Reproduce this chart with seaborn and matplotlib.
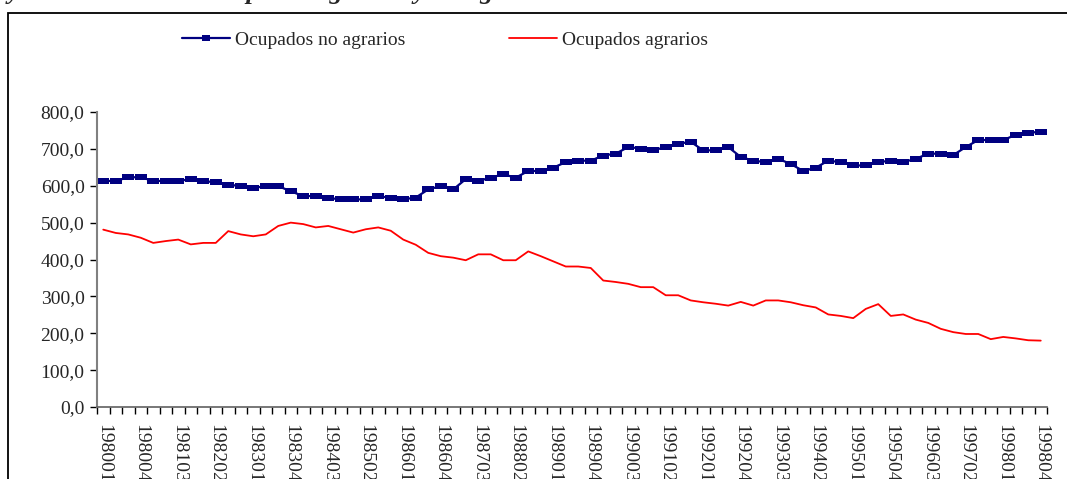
import numpy as np
import pandas as pd
import matplotlib
matplotlib.use("Agg")
import matplotlib.pyplot as plt
import matplotlib.patches as mpatches
from matplotlib.ticker import FixedLocator, FuncFormatter
import seaborn as sns

# ---- data ----
years = list(range(1980, 1999))
quarters = [1, 2, 3, 4]
periods = [f"{y}0{q}" for y in years for q in quarters]

no_agrarios = [613, 613, 623, 623, 613, 613, 613, 618, 613, 609,
               603, 599, 594, 599, 599, 585, 572, 572, 567, 563,
               563, 563, 572, 567, 563, 568, 590, 599, 590, 618,
               613, 622, 631, 622, 640, 640, 649, 664, 668, 668,
               682, 687, 705, 701, 696, 705, 714, 719, 696, 696,
               705, 678, 668, 664, 673, 659, 640, 649, 668, 664,
               655, 655, 664, 668, 664, 673, 687, 687, 683, 705,
               724, 724, 724, 738, 743, 747]
agrarios = [481, 472, 468, 459, 445, 450, 454, 441, 445, 445,
            477, 468, 463, 468, 491, 500, 496, 487, 491, 482,
            473, 482, 487, 478, 454, 440, 418, 409, 405, 398,
            414, 414, 398, 398, 422, 409, 395, 381, 381, 377,
            343, 339, 334, 325, 325, 303, 303, 289, 284, 280,
            275, 285, 275, 289, 289, 284, 276, 270, 251, 247,
            241, 266, 279, 247, 251, 237, 228, 212, 203, 198,
            198, 184, 190, 186, 181, 180]
series_names = ["Ocupados no agrarios", "Ocupados agrarios"]
y_ticks = [0, 100, 200, 300, 400, 500, 600, 700, 800]
title_text = "y evolución de los ocupados agrarios y no agrarios"

df = pd.DataFrame({
    "pos": np.arange(len(periods)),
    "periodo": periods,
    series_names[0]: no_agrarios,
    series_names[1]: agrarios,
})

sns.set_style("white")
plt.rcParams["font.family"] = ["Liberation Serif", "DejaVu Serif"]
plt.rcParams["font.size"] = 14

W, H = 1067, 479
fig = plt.figure(figsize=(W / 100, H / 100), dpi=100)
ax = fig.add_axes([97 / W, 72 / H, (1047 - 97) / W, (407 - 112) / H])

rect_marker = [(-1, -0.6), (1, -0.6), (1, 0.6), (-1, 0.6), (-1, -0.6)]
sns.lineplot(data=df, x="pos", y=series_names[0], ax=ax, color="#000080",
             linewidth=1.6, marker=rect_marker, markersize=8,
             markeredgewidth=0, label=series_names[0])
sns.lineplot(data=df, x="pos", y=series_names[1], ax=ax, color="#FF0000",
             linewidth=1.3, label=series_names[1])

ax.set_xlim(-0.5, len(periods) - 0.5)
ax.set_ylim(0, 800)
ax.set_xlabel("")
ax.set_ylabel("")

# x ticks: tick marks at category boundaries, labels every 3 categories
ax.xaxis.set_major_locator(FixedLocator(np.arange(-0.5, len(periods), 1.0)))
ax.xaxis.set_major_formatter(FuncFormatter(lambda v, p: ""))
lab_pos = np.arange(0, len(periods), 3)
ax.xaxis.set_minor_locator(FixedLocator(lab_pos))
ax.set_xticklabels([periods[i] for i in lab_pos], minor=True, rotation=270,
                   va="top", ha="center")
ax.tick_params(axis="x", which="major", direction="out", length=5, width=1,
               color="black", bottom=True)
ax.tick_params(axis="x", which="minor", length=0, pad=12, labelsize=14)

ax.set_yticks(y_ticks)
ax.set_yticklabels([f"{v:.1f}".replace(".", ",") for v in y_ticks])
ax.tick_params(axis="y", direction="out", length=5, width=1, color="black",
               left=True, pad=4, labelsize=14)

for s in ["top", "right"]:
    ax.spines[s].set_visible(False)
ax.spines["left"].set_color("#808080")
ax.spines["left"].set_linewidth(1.5)
ax.spines["bottom"].set_color("#606060")
ax.spines["bottom"].set_linewidth(1.2)

ax.get_legend().remove()
handles, labels = ax.get_legend_handles_labels()
fig.legend(handles, labels, loc="center", bbox_to_anchor=(445 / W, 1 - 40 / H),
           ncol=2, frameon=False, fontsize=14, handlelength=2.5,
           handletextpad=0.25, columnspacing=5.3, markerscale=0.8)

# outer frame
fig.patches.append(mpatches.Rectangle((8 / W, -0.02), 1.1, 1 - 13 / H + 0.02,
                                      transform=fig.transFigure, fill=False,
                                      edgecolor="black", linewidth=1.3))

# title (cropped at the top edge, as in the reference)
fig.text(8 / W, 1 + 1 / H, title_text, fontsize=19, fontweight="bold",
         fontstyle="italic", va="baseline", ha="left")

fig.savefig("out.png", dpi=100)
